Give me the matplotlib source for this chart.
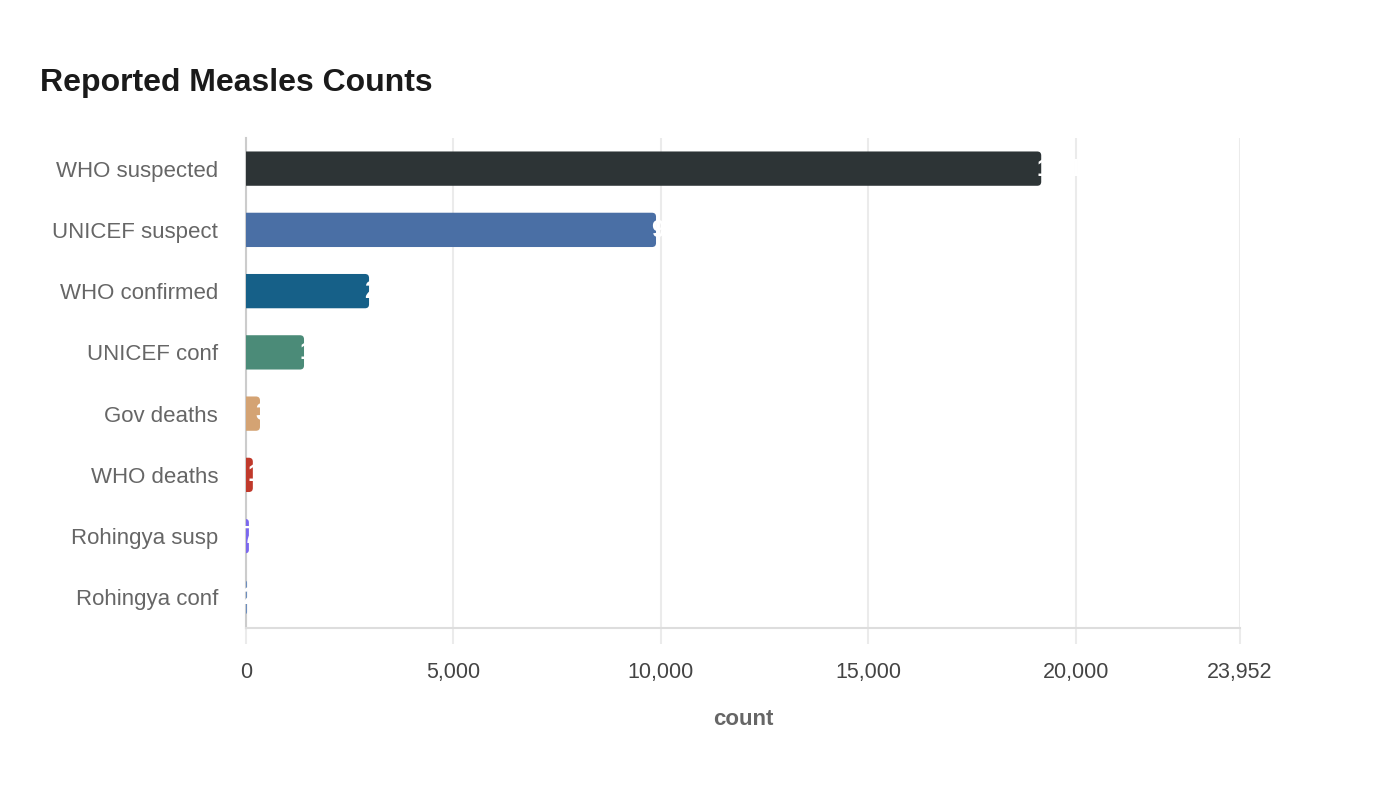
import matplotlib
matplotlib.use("Agg")
import matplotlib.pyplot as plt
from matplotlib.patches import FancyBboxPatch

plt.rcParams["font.family"] = ["Liberation Sans", "DejaVu Sans"]

categories = ["WHO suspected", "UNICEF suspect", "WHO confirmed", "UNICEF conf",
              "Gov deaths", "WHO deaths", "Rohingya susp", "Rohingya conf"]
counts = [19162, 9880, 2965, 1398, 337, 165, 70, 25]
bar_colors = ["#2d3436", "#4a6fa5", "#166088", "#4b8b78",
              "#d4a373", "#c0392b", "#7b68ee", "#6c8ebf"]
x_max = 23952
x_ticks = [0, 5000, 10000, 15000, 20000, 23952]

fig = plt.figure(figsize=(14, 8), dpi=100)
ax = fig.add_axes([246 / 1400, 1 - 628 / 800, (1240 - 246) / 1400, (628 - 138) / 800])

ax.set_xlim(0, x_max)
ax.set_ylim(len(categories) - 0.5, -0.5)

ypos = list(range(len(categories)))
bars = ax.barh(ypos, counts, height=0.56, color=bar_colors, linewidth=0, zorder=3)

# rounded right end: swap each bar for a rounded box (radius ~4 px);
# the box starts left of zero so its left corners are clipped by the axes
px_x = (1240 - 246) / x_max
px_y = (628 - 138) / len(categories)
radius = 4 / px_x
for b in bars:
    b.set_visible(False)
    x0, y0, w, h = b.get_x(), b.get_y(), b.get_width(), b.get_height()
    r = min(radius, (w + radius) / 2)
    rounded = FancyBboxPatch((x0 - radius, y0), w + radius, h,
                             boxstyle=f"round,pad=0,rounding_size={r}",
                             mutation_aspect=(4 / px_y) / radius,
                             facecolor=b.get_facecolor(), linewidth=0, zorder=3)
    ax.add_patch(rounded)

for y, v in zip(ypos, counts):
    ax.annotate(f"{v:,}", xy=(v, y), xytext=(-3.5, 0), textcoords="offset points",
                ha="left", va="center", color="white", fontsize=17,
                fontweight="bold", zorder=4)

ax.set_yticks(ypos)
ax.set_yticklabels(categories)
ax.set_xticks(x_ticks)
ax.set_xticklabels([f"{t:,}" for t in x_ticks])

ax.grid(axis="x", color="#ebebeb", linewidth=1.5, zorder=0)
for s in ["top", "right"]:
    ax.spines[s].set_visible(False)
ax.spines["left"].set_color("#cccccc")
ax.spines["left"].set_linewidth(1.5)
ax.spines["bottom"].set_color("#dddddd")
ax.spines["bottom"].set_linewidth(1.5)

ax.tick_params(axis="y", length=0, pad=20, labelsize=16, labelcolor="#666666")
ax.tick_params(axis="x", length=11.5, width=1.5, color="#ebebeb", pad=13,
               labelsize=15.5, labelcolor="#444444")

ax.set_xlabel("count", fontsize=16, fontweight="bold", color="#666666", labelpad=19)

fig.text(40 / 1400, 1 - 91 / 800, "Reported Measles Counts", fontsize=23,
         fontweight="bold", color="#1a1a1a", ha="left", va="baseline")

fig.savefig("out.png", dpi=100, facecolor="white")
